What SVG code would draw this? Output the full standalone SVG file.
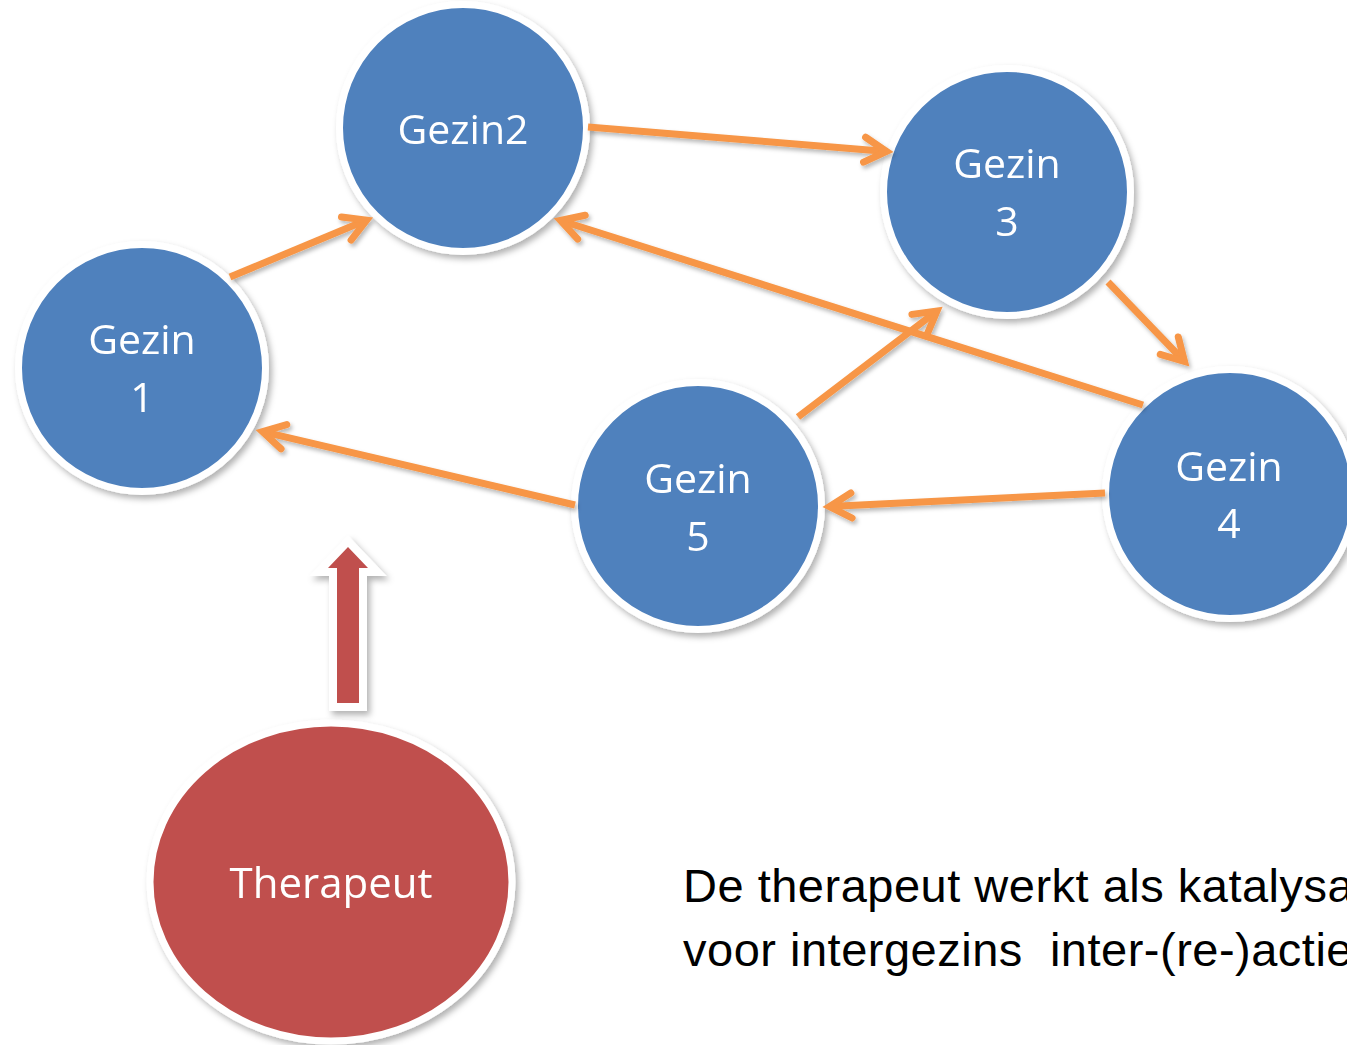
<svg xmlns="http://www.w3.org/2000/svg" width="1347" height="1045" viewBox="0 0 1347 1045">
<defs>
<filter id="sh" x="-20%" y="-20%" width="140%" height="140%">
<feDropShadow dx="3" dy="4" stdDeviation="3" flood-color="#000" flood-opacity="0.3"/>
</filter>
<filter id="sha" filterUnits="userSpaceOnUse" x="280" y="510" width="140" height="230">
<feDropShadow dx="3" dy="4" stdDeviation="3" flood-color="#000" flood-opacity="0.3"/>
</filter>
<filter id="shl" x="-10%" y="-10%" width="120%" height="120%">
<feDropShadow dx="2" dy="3" stdDeviation="2" flood-color="#000" flood-opacity="0.28"/>
</filter>
<marker id="ah" markerUnits="userSpaceOnUse" orient="auto" refX="0" refY="0" markerWidth="40" markerHeight="40" overflow="visible">
<path d="M-22,-12.5 L0,0 L-22,12.5" fill="none" stroke="#F79646" stroke-width="7" stroke-linecap="round" stroke-linejoin="miter" stroke-miterlimit="10"/>
</marker>
</defs>
<style>
.node{fill:#4F81BD;stroke:#fff;stroke-width:7}
.ther{fill:#C0504D;stroke:#fff;stroke-width:7}
.lbl{font-family:"Open Sans","Liberation Sans",sans-serif;font-size:41px;fill:#fff;text-anchor:middle}
.con{fill:none;stroke:#F79646;stroke-width:7;stroke-linecap:butt;marker-end:url(#ah)}
.note{font-family:"Liberation Sans",Arial,sans-serif;font-size:47px;fill:#000;white-space:pre;letter-spacing:0.5px}
</style>
<rect width="1347" height="1045" fill="#fff"/>

<g id="gezin2" filter="url(#sh)">
<circle class="node" cx="463" cy="128" r="123.5"/>
<text class="lbl" x="463" y="144">Gezin2</text>
</g>
<g id="gezin1" filter="url(#sh)">
<circle class="node" cx="142" cy="368" r="123.5"/>
<text class="lbl" x="142" y="354">Gezin</text>
<text class="lbl" x="142" y="412">1</text>
</g>
<g id="gezin3" filter="url(#sh)">
<circle class="node" cx="1007" cy="192" r="123.5"/>
<text class="lbl" x="1007" y="178">Gezin</text>
<text class="lbl" x="1007" y="236">3</text>
</g>
<g id="gezin4" filter="url(#sh)">
<circle class="node" cx="1230" cy="494" r="124.5"/>
<text class="lbl" x="1229" y="481">Gezin</text>
<text class="lbl" x="1229" y="538">4</text>
</g>
<g id="gezin5" filter="url(#sh)">
<circle class="node" cx="698" cy="506" r="123.5"/>
<text class="lbl" x="698" y="493">Gezin</text>
<text class="lbl" x="698" y="551">5</text>
</g>
<g id="therapeut" filter="url(#sh)">
<ellipse class="ther" cx="331" cy="882" rx="181" ry="159"/>
<text class="lbl" x="331" y="898" style="font-size:42px">Therapeut</text>
</g>

<g id="connectors" filter="url(#shl)">
<path class="con" d="M230,277 L366.6,220.1"/>
<path class="con" d="M588,127 L886.5,151.5"/>
<path class="con" d="M1108,282 L1184.5,361.5"/>
<path class="con" d="M1143,405 L560.5,220.5"/>
<path class="con" d="M798,417 L937,311"/>
<path class="con" d="M1105,493 L829.5,506.6"/>
<path class="con" d="M575,505 L262.5,431.7"/>
</g>

<g id="therapeut-arrow" filter="url(#sha)">
<polygon points="348,547 368,568 359,568 359,703 337,703 337,568 328,568" fill="#C0504D" stroke="#fff" stroke-width="16" stroke-linejoin="miter" stroke-miterlimit="10" paint-order="stroke"/>
</g>

<g id="note">
<text class="note" x="683" y="902">De therapeut werkt als katalysator</text>
<text class="note" x="683" y="966">voor intergezins  inter-(re-)acties</text>
</g>
</svg>
